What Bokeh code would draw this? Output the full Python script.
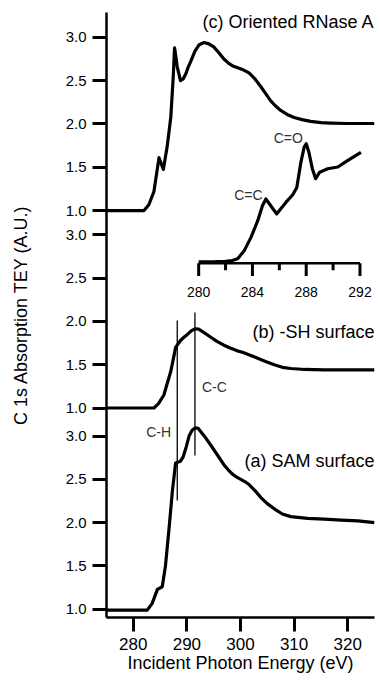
from bokeh.plotting import figure
from bokeh.models import Range1d, FixedTicker
from bokeh.core.properties import value
from bokeh.embed import file_html
from bokeh.resources import INLINE

# ---------------- data ----------------
# (a) SAM surface
energy_a = [275.0, 282.6, 283.5, 284.5, 285.4, 286.0, 286.65, 287.3, 287.9, 288.8, 289.3,
            289.9, 290.4, 291.0, 291.6, 292.1, 292.6, 293.5, 294.4, 295.6, 296.9, 297.7,
            298.5, 299.3, 300.05, 300.8, 301.6, 302.7, 303.8, 305.0, 306.3, 307.8, 309.4,
            312.5, 315.6, 318.8, 321.9, 325.0]
tey_a = [0.99, 0.99, 1.065, 1.23, 1.26, 1.50, 1.92, 2.37, 2.69, 2.71, 2.76,
         2.88, 3.00, 3.07, 3.095, 3.09, 3.05, 2.98, 2.90, 2.79, 2.67, 2.61,
         2.56, 2.525, 2.50, 2.475, 2.44, 2.37, 2.29, 2.22, 2.16, 2.10, 2.07,
         2.05, 2.04, 2.03, 2.02, 2.0]

# (b) -SH surface
energy_b = [275.0, 283.85, 284.7, 285.7, 287.0, 287.9, 288.8, 289.5, 290.1, 290.8, 291.5,
            292.2, 293.2, 294.4, 295.6, 296.9, 298.2, 299.4, 300.5, 301.8, 303.2, 304.8,
            306.3, 307.8, 309.4, 312.0, 315.6, 320.0, 325.0]
tey_b = [1.0, 1.0, 1.05, 1.15, 1.425, 1.70, 1.78, 1.82, 1.85, 1.89, 1.915,
         1.91, 1.87, 1.82, 1.77, 1.725, 1.69, 1.66, 1.64, 1.61, 1.575, 1.535,
         1.50, 1.47, 1.456, 1.445, 1.44, 1.44, 1.44]

# (c) Oriented RNase A
energy_c = [275.0, 282.0, 282.9, 283.85, 284.5, 284.8, 285.6, 286.3, 287.0, 287.45, 287.7,
            288.2, 288.8, 289.3, 289.8, 290.2, 290.7, 291.5, 292.3, 293.2, 294.1, 295.0,
            296.0, 296.9, 297.8, 298.7, 299.6, 300.5, 301.6, 302.7, 303.8, 304.7, 305.6,
            306.5, 307.5, 308.7, 310.0, 311.5, 313.1, 315.0, 316.9, 320.0, 325.0]
tey_c = [1.0, 1.0, 1.067, 1.22, 1.49, 1.61, 1.475, 1.73, 2.08, 2.545, 2.88,
         2.66, 2.50, 2.52, 2.58, 2.65, 2.72, 2.84, 2.915, 2.94, 2.925, 2.89,
         2.82, 2.75, 2.70, 2.665, 2.645, 2.625, 2.59, 2.52, 2.43, 2.35, 2.27,
         2.21, 2.156, 2.11, 2.075, 2.05, 2.03, 2.015, 2.01, 2.005, 2.005]

# inset: oriented RNase A, 280-292 eV (relative intensity above baseline)
energy_inset = [280.0, 281.0, 282.0, 282.5, 282.9, 283.4, 283.9, 284.4, 284.75, 285.0, 285.35,
                285.8, 286.5, 287.0, 287.3, 287.6, 287.85, 288.0, 288.2, 288.45, 288.7, 289.0,
                289.6, 290.35, 291.1, 292.07]
intensity_inset = [0.014, 0.014, 0.02, 0.03, 0.05, 0.147, 0.30, 0.493, 0.666, 0.741, 0.666,
                   0.568, 0.704, 0.79, 0.874, 1.163, 1.34, 1.379, 1.28, 1.094, 0.975, 1.05,
                   1.09, 1.11, 1.186, 1.28]

tick_values = [1.0, 1.5, 2.0, 2.5, 3.0]
tick_labels = ["1.0", "1.5", "2.0", "2.5", "3.0"]
x_ticks = [280, 290, 300, 310, 320]
inset_major_ticks = [280, 284, 288, 292]
inset_minor_ticks = [282, 286, 290]
inset_tick_labels = ["280", "284", "288", "292"]

panel_labels = ["(a) SAM surface", "(b) -SH surface", "(c) Oriented RNase A"]
bond_energies = [288.2, 291.5]
bond_labels = ["C-H", "C-C"]
inset_peak_energies = [283.7, 286.67]
inset_peak_labels = ["C=C", "C=O"]

# ---------------- layout (positions / styles) ----------------
FONT = "Liberation Sans"
offsets = [0.0, 2.324, 4.604]          # vertical offset of each stacked panel
INSET_BASE = 4.997                     # baseline of the inset axis
inset_peak_y = [0.782, 1.448]

p = figure(width=380, height=681, x_range=Range1d(275, 325), y_range=Range1d(0.905, 7.891),
           output_backend="svg", toolbar_location=None,
           min_border_left=106, min_border_right=6, min_border_top=12, min_border_bottom=64)
p.extra_x_ranges = {"inset": Range1d(273.143, 293.08)}
p.outline_line_color = None
p.grid.visible = False
p.background_fill_color = "white"
p.border_fill_color = "white"

# y axis with repeated 1.0 - 3.0 ticks per panel
y_positions, y_overrides = [], {}
for off in offsets:
    for tv, tl in zip(tick_values, tick_labels):
        pos = round(tv + off, 4)
        y_positions.append(pos)
        y_overrides[pos] = tl
p.yaxis.ticker = FixedTicker(ticks=y_positions, minor_ticks=[])
p.yaxis.major_label_overrides = y_overrides
p.yaxis.axis_label = "C 1s Absorption TEY (A.U.)"

p.xaxis.ticker = FixedTicker(ticks=x_ticks, minor_ticks=[])
p.xaxis.axis_label = "Incident Photon Energy (eV)"

for ax, size in ((p.xaxis, "17px"), (p.yaxis, "15px")):
    ax.axis_line_width = 2.5
    ax.axis_line_color = "black"
    ax.major_tick_line_width = 3
    ax.major_tick_line_color = "black"
    ax.major_tick_in = 0
    ax.major_tick_out = 14
    ax.minor_tick_line_color = None
    ax.major_label_text_font = FONT
    ax.major_label_text_font_size = size
    ax.major_label_text_color = "black"
    ax.axis_label_text_font = FONT
    ax.axis_label_text_font_size = "18px"
    ax.axis_label_text_font_style = "normal"
    ax.axis_label_text_color = "black"
p.yaxis.major_label_standoff = 6
p.yaxis.axis_label_standoff = 32
p.xaxis.major_label_standoff = 6
p.xaxis.axis_label_standoff = 0

# spectra
for en, tey, off in ((energy_a, tey_a, offsets[0]), (energy_b, tey_b, offsets[1]),
                     (energy_c, tey_c, offsets[2])):
    p.line(en, [v + off for v in tey], line_width=3.2, line_color="black", line_join="round")

# panel labels
label_y = [2.711, 4.196, 7.787]
p.text(x=[325, 325, 325], y=label_y, text=panel_labels, text_align="right",
       text_baseline="middle", text_font=value(FONT), text_font_size="18px", text_color="black")

# C-H / C-C marker lines
p.segment(x0=bond_energies, x1=bond_energies, y0=[2.256, 2.776], y1=[4.335, 4.427],
          line_width=1.3, line_color="black")
p.text(x=[bond_energies[0], bond_energies[1]], y=[3.045, 3.565], text=bond_labels,
       text_align="left", text_baseline="middle", x_offset=[-31, 7],
       text_font=value(FONT), text_font_size="14px", text_color="#333333")

# inset
p.line(energy_inset, [v + INSET_BASE for v in intensity_inset], x_range_name="inset",
       line_width=3.2, line_color="black", line_join="round")
p.segment(x0=[inset_major_ticks[0]], x1=[inset_major_ticks[-1]], y0=[INSET_BASE], y1=[INSET_BASE],
          x_range_name="inset", line_width=2.5, line_color="black")
p.segment(x0=inset_major_ticks, x1=inset_major_ticks, y0=[INSET_BASE] * 4,
          y1=[INSET_BASE - 0.15] * 4, x_range_name="inset", line_width=3, line_color="black")
p.segment(x0=inset_minor_ticks, x1=inset_minor_ticks, y0=[INSET_BASE] * 3,
          y1=[INSET_BASE - 0.081] * 3, x_range_name="inset", line_width=3, line_color="black")
p.text(x=inset_major_ticks, y=[INSET_BASE - 0.335] * 4, text=inset_tick_labels,
       x_range_name="inset", text_align="center", text_baseline="middle",
       text_font=value(FONT), text_font_size="14px", text_color="black")
p.text(x=inset_peak_energies, y=[v + INSET_BASE for v in inset_peak_y], text=inset_peak_labels,
       x_range_name="inset", text_align="center", text_baseline="middle",
       text_font=value(FONT), text_font_size="14px", text_color="#333333")

open("out.html", "w").write(file_html(p, INLINE))
